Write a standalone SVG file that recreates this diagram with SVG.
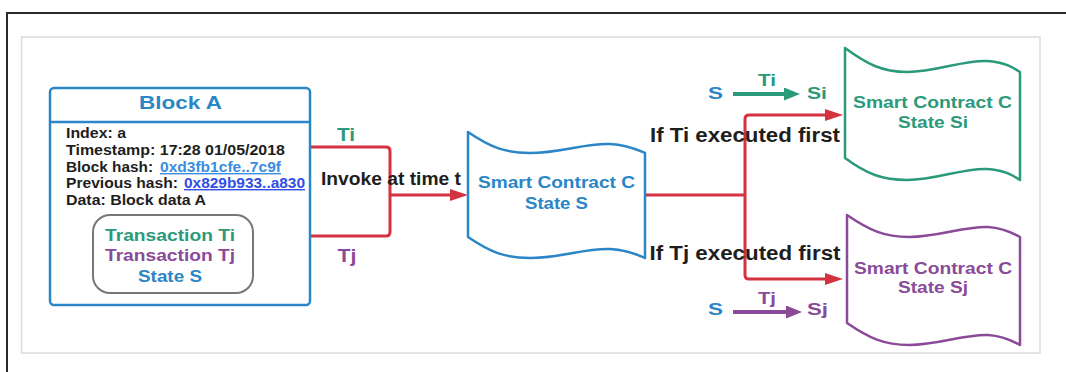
<svg xmlns="http://www.w3.org/2000/svg" width="1066" height="372" viewBox="0 0 1066 372">
<defs>
<style>
text{font-family:"Liberation Sans",Arial,sans-serif;font-weight:bold;}
.blk{fill:#1e1e1e;}
.blue{fill:#2a86c6;}
.green{fill:#2a9a7b;}
.purple{fill:#8a4a98;}
.red{fill:none;stroke:#d43240;stroke-width:3;stroke-linejoin:round;}
.tape{fill:#ffffff;stroke-width:2.5;stroke-linejoin:round;}
.link{text-decoration:underline;}
</style>
<marker id="arRed" markerUnits="userSpaceOnUse" markerWidth="18" markerHeight="12" refX="10" refY="6" orient="auto">
<path d="M0,0 L18,6 L0,12 Z" fill="#d43240"/>
</marker>
<marker id="arGreen" markerUnits="userSpaceOnUse" markerWidth="16" markerHeight="13" refX="8" refY="6.5" orient="auto">
<path d="M0,0 L16,6.5 L0,13 Z" fill="#2a9a7b"/>
</marker>
<marker id="arPurple" markerUnits="userSpaceOnUse" markerWidth="16" markerHeight="13" refX="8" refY="6.5" orient="auto">
<path d="M0,0 L16,6.5 L0,13 Z" fill="#8a4a98"/>
</marker>
</defs>
<rect width="1066" height="372" fill="#ffffff"/>
<rect x="7" y="13" width="1080" height="380" fill="none" stroke="#2a2a2a" stroke-width="2"/>
<rect x="21.5" y="37" width="1018.5" height="316" fill="none" stroke="#dcdcdc" stroke-width="1.5"/>

<g id="connectors">
<path class="red" d="M310,147 H386 Q390,147 390,151 V195 H460" marker-end="url(#arRed)"/>
<path class="red" d="M310,236 H386 Q390,236 390,232 V195"/>
<path class="red" d="M645,195 H745 V119 Q745,115 749,115 H835" marker-end="url(#arRed)"/>
<path class="red" d="M745,195 V275 Q745,279 749,279 H835" marker-end="url(#arRed)"/>
<path d="M733,94 H792" stroke="#2a9a7b" stroke-width="4" fill="none" marker-end="url(#arGreen)"/>
<path d="M733,312 H794" stroke="#8a4a98" stroke-width="4" fill="none" marker-end="url(#arPurple)"/>
<text class="green" x="346" y="141" font-size="19" text-anchor="middle" textLength="18" lengthAdjust="spacingAndGlyphs">Ti</text>
<text class="purple" x="347" y="262" font-size="19" text-anchor="middle" textLength="19" lengthAdjust="spacingAndGlyphs">Tj</text>
<text class="blk" x="391" y="185" font-size="18" text-anchor="middle" textLength="140" lengthAdjust="spacingAndGlyphs">Invoke at time t</text>
<text class="blk" x="745" y="142" font-size="19.5" text-anchor="middle" textLength="190" lengthAdjust="spacingAndGlyphs">If Ti executed first</text>
<text class="blk" x="745" y="260" font-size="19.5" text-anchor="middle" textLength="191" lengthAdjust="spacingAndGlyphs">If Tj executed first</text>
<text class="blue" x="715.5" y="99" font-size="17" text-anchor="middle" textLength="15" lengthAdjust="spacingAndGlyphs">S</text>
<text class="green" x="767" y="86" font-size="17" text-anchor="middle" textLength="18" lengthAdjust="spacingAndGlyphs">Ti</text>
<text class="green" x="817" y="99" font-size="17" text-anchor="middle" textLength="20" lengthAdjust="spacingAndGlyphs">Si</text>
<text class="blue" x="715.5" y="315" font-size="17" text-anchor="middle" textLength="15" lengthAdjust="spacingAndGlyphs">S</text>
<text class="purple" x="767" y="304" font-size="17" text-anchor="middle" textLength="18" lengthAdjust="spacingAndGlyphs">Tj</text>
<text class="purple" x="817.5" y="315" font-size="17" text-anchor="middle" textLength="21" lengthAdjust="spacingAndGlyphs">Sj</text>
</g>

<g id="blockA">
<rect x="50" y="88" width="260" height="217" rx="4" fill="#ffffff" stroke="#2a86c6" stroke-width="2.5"/>
<line x1="50" y1="122" x2="310" y2="122" stroke="#2a86c6" stroke-width="2.5"/>
<text class="blue" x="180.5" y="109" font-size="19" text-anchor="middle" textLength="83" lengthAdjust="spacingAndGlyphs">Block A</text>
<text class="blk" x="66" y="138" font-size="14" textLength="60" lengthAdjust="spacingAndGlyphs">Index: a</text>
<text class="blk" x="66" y="155" font-size="14" textLength="219" lengthAdjust="spacingAndGlyphs">Timestamp: 17:28 01/05/2018</text>
<text class="blk" x="66" y="172" font-size="14" textLength="87" lengthAdjust="spacingAndGlyphs">Block hash:</text>
<text class="link" x="160" y="172" font-size="14" fill="#3b8de0" textLength="121" lengthAdjust="spacingAndGlyphs">0xd3fb1cfe..7c9f</text>
<text class="blk" x="66" y="188" font-size="14" textLength="112" lengthAdjust="spacingAndGlyphs">Previous hash:</text>
<text class="link" x="184" y="188" font-size="14" fill="#2f4fe6" textLength="121" lengthAdjust="spacingAndGlyphs">0x829b933..a830</text>
<text class="blk" x="66" y="205" font-size="14" textLength="140" lengthAdjust="spacingAndGlyphs">Data: Block data A</text>
<rect x="93" y="215" width="160" height="78" rx="17" fill="none" stroke="#777777" stroke-width="2"/>
<text class="green" x="170" y="241" font-size="17" text-anchor="middle" textLength="130" lengthAdjust="spacingAndGlyphs">Transaction Ti</text>
<text class="purple" x="170" y="261" font-size="17" text-anchor="middle" textLength="130" lengthAdjust="spacingAndGlyphs">Transaction Tj</text>
<text class="blue" x="170" y="282" font-size="17" text-anchor="middle" textLength="64" lengthAdjust="spacingAndGlyphs">State S</text>
</g>

<g id="contractS">
<path class="tape" stroke="#2a86c6" transform="translate(468,132)" d="M0,0 C22,15 37,21 62,21 C92,21 117,11 142,12 C160,13 170,18 177,21 L177,126 C170,123 160,118 142,117 C117,116 92,126 62,126 C37,126 22,120 0,105 Z"/>
<text class="blue" x="556.5" y="188" font-size="16.5" text-anchor="middle" textLength="157" lengthAdjust="spacingAndGlyphs">Smart Contract C</text>
<text class="blue" x="556.5" y="209" font-size="16.5" text-anchor="middle" textLength="63" lengthAdjust="spacingAndGlyphs">State S</text>
</g>

<g id="contractSi">
<path class="tape" stroke="#2a9a7b" transform="translate(845,48)" d="M0,0 C22,16 37,24 62,24 C92,24 117,12 142,13 C160,14 169,20 175,24 L175,132 C169,128 160,122 142,121 C117,120 92,132 62,132 C37,132 22,126 0,110 Z"/>
<text class="green" x="932.5" y="108" font-size="16" text-anchor="middle" textLength="159" lengthAdjust="spacingAndGlyphs">Smart Contract C</text>
<text class="green" x="933" y="128" font-size="16" text-anchor="middle" textLength="70" lengthAdjust="spacingAndGlyphs">State Si</text>
</g>

<g id="contractSj">
<path class="tape" stroke="#8a4a98" transform="translate(847,215)" d="M0,0 C22,15 37,22 62,22 C92,22 117,11 141,12 C158,13 167,19 173,22 L173,130 C167,127 158,121 141,120 C117,119 92,130 62,130 C37,130 22,123 0,108 Z"/>
<text class="purple" x="933" y="274" font-size="16" text-anchor="middle" textLength="158" lengthAdjust="spacingAndGlyphs">Smart Contract C</text>
<text class="purple" x="933" y="293" font-size="16" text-anchor="middle" textLength="70" lengthAdjust="spacingAndGlyphs">State Sj</text>
</g>
</svg>
